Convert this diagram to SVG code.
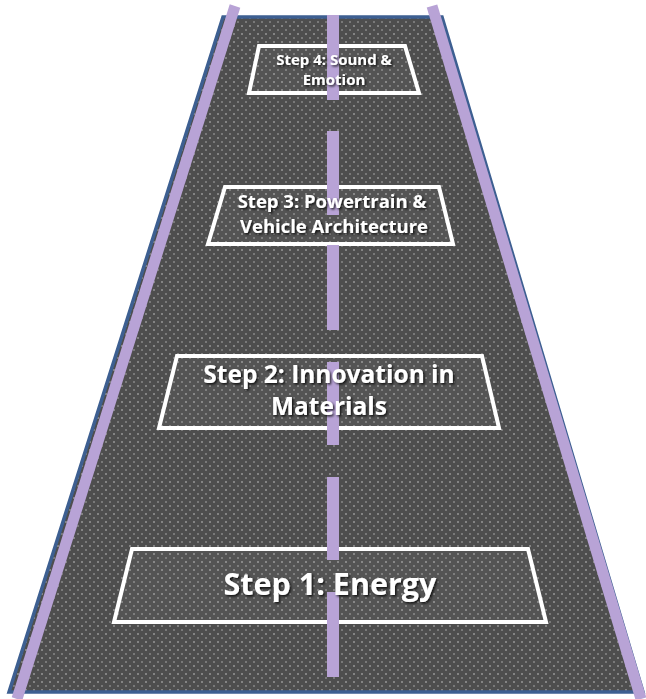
<svg xmlns="http://www.w3.org/2000/svg" width="646" height="699" viewBox="0 0 646 699">
<defs>
<pattern id="dots" width="8" height="8" patternUnits="userSpaceOnUse">
<rect width="8" height="8" fill="#4e4e4e"/>
<circle cx="2" cy="2" r="0.8" fill="#c8c8c8"/>
<circle cx="6" cy="6" r="0.8" fill="#b0b0b0"/>
</pattern>
<filter id="sh" x="-10%" y="-30%" width="120%" height="160%">
<feDropShadow dx="1.5" dy="1.5" stdDeviation="1.2" flood-color="#000" flood-opacity="0.8"/>
</filter>
<style>
.box{fill:#ffffff;fill-opacity:0.04;stroke:#ffffff;stroke-width:4;stroke-linejoin:miter}
.lbl{font-family:"Open Sans","Liberation Sans",sans-serif;font-weight:700;fill:#ffffff;text-anchor:middle;filter:url(#sh)}
.edge{stroke:#b8a3d6;stroke-width:11;fill:none}
.dash{fill:#b8a3d6}
</style>
</defs>
<rect width="646" height="699" fill="#ffffff"/>
<g id="road">
<polygon points="223,17 442,17 643,692 9,692" fill="url(#dots)" stroke="#3d5f91" stroke-width="3.5" stroke-linejoin="miter"/>
</g>
<g id="edges">
<line class="edge" x1="235" y1="6" x2="17" y2="699"/>
<line class="edge" x1="432" y1="6" x2="641" y2="699"/>
</g>
<g id="step4">
<polygon class="box" points="259,46 405,46 419,93 249,93"/>
</g>
<g id="step3">
<polygon class="box" points="225,187 439,187 453,244 208,244"/>
</g>
<g id="step2">
<polygon class="box" points="177,356 482,356 499,428 159,428"/>
</g>
<g id="step1">
<polygon class="box" points="132,549 528,549 546,622 114,622"/>
</g>
<g id="connectors">
<rect class="dash" x="327" y="15" width="12" height="85"/>
<rect class="dash" x="327" y="131" width="12" height="84"/>
<rect class="dash" x="327" y="245" width="12" height="85"/>
<rect class="dash" x="327" y="362" width="12" height="83"/>
<rect class="dash" x="327" y="477" width="12" height="83"/>
<rect class="dash" x="327" y="592" width="12" height="85"/>
</g>
<g id="labels">
<text class="lbl" x="334" y="65" font-size="15">Step 4: Sound &amp;</text>
<text class="lbl" x="334" y="85" font-size="15">Emotion</text>
<text class="lbl" x="332" y="208" font-size="18.5">Step 3: Powertrain &amp;</text>
<text class="lbl" x="334" y="233" font-size="18.5">Vehicle Architecture</text>
<text class="lbl" x="329" y="383" font-size="24.5">Step 2: Innovation in</text>
<text class="lbl" x="329" y="415" font-size="24.5">Materials</text>
<text class="lbl" x="330" y="595" font-size="30.5">Step 1: Energy</text>
</g>
</svg>
